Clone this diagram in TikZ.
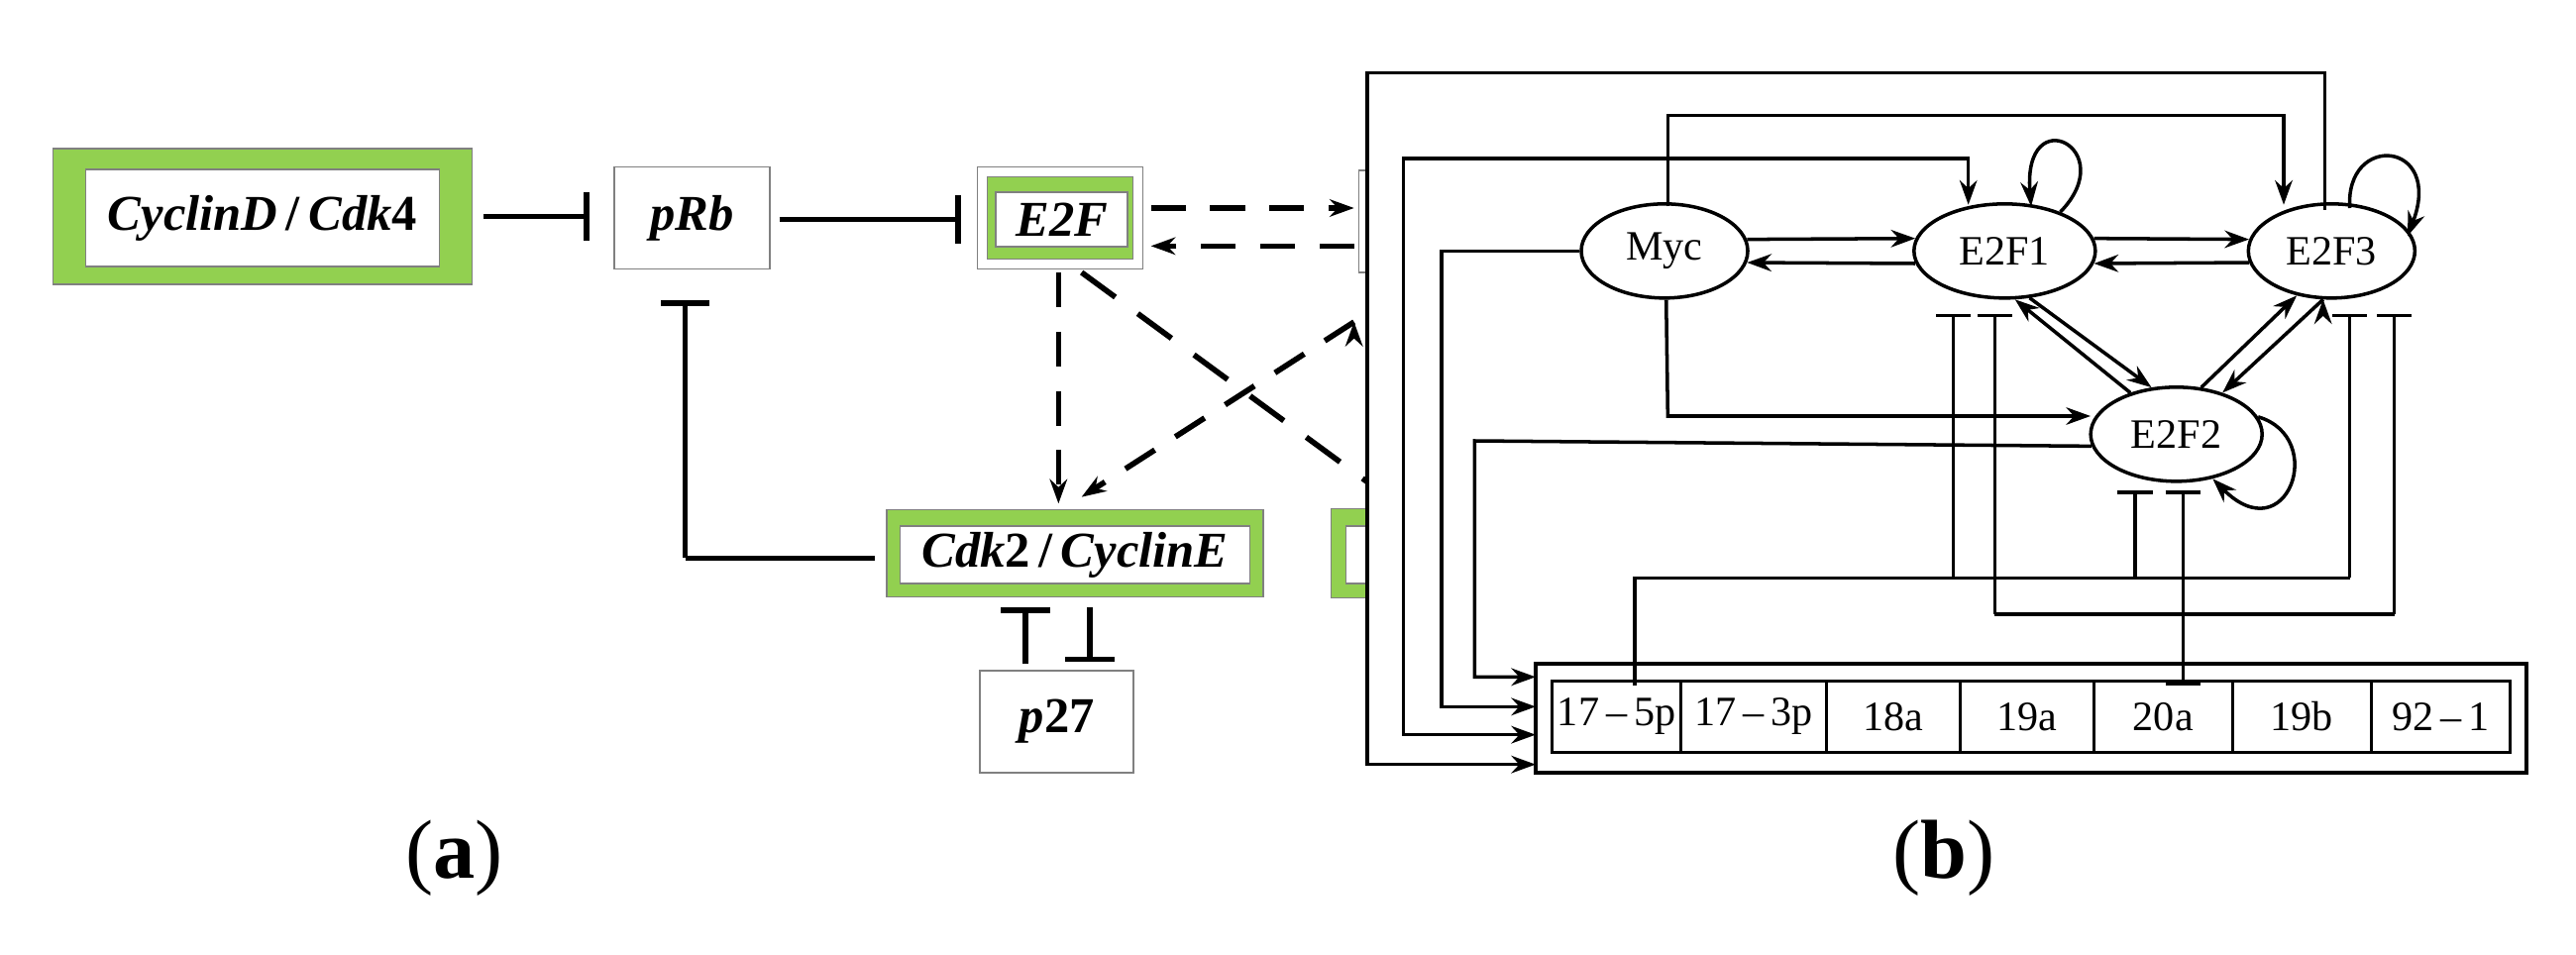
\documentclass[tikz,border=0pt]{standalone}
\usepackage{fontspec}
\setmainfont{Liberation Serif}
\usetikzlibrary{arrows.meta}
\usetikzlibrary{shapes.geometric}
\usetikzlibrary{positioning}

\definecolor{leafgreen}{RGB}{146,208,80}

\tikzset{
  act/.style={-{Stealth[length=7pt,width=5pt]}},
  inh/.style={-{Bar[width=14pt,line width=1.6pt]}},
  rep/.style={-{Bar[width=10pt,line width=1pt]}},
  greenbox/.style={draw=gray,fill=leafgreen,inner sep=0pt},
  whitebox/.style={draw=gray,fill=white,inner sep=0pt,font=\Large\bfseries\itshape},
  gene/.style={draw,ellipse,line width=1pt,minimum width=1.68cm,minimum height=0.95cm,font=\large},
  cell/.style={draw,line width=0.8pt,minimum height=0.72cm,inner sep=0pt,font=\large}
}

\begin{document}
\begin{tikzpicture}[x=0.016667cm,y=-0.016667cm]
  \useasboundingbox (0,0) rectangle (1560,578);

  % panel (a)
  \node [greenbox,minimum width=4.23cm,minimum height=1.37cm] (CDouter) at (159,131) {};
  \node [whitebox,minimum width=3.57cm,minimum height=0.98cm] (CD) at (159,132) {CyclinD\,\textup{/}\,Cdk\textup{4}};
  \node [whitebox,minimum width=1.57cm,minimum height=1.03cm] (pRb) at (419,132) {pRb};
  \node [draw=gray,minimum width=1.67cm,minimum height=1.03cm] (E2Fframe) at (642,132) {};
  \node [greenbox,minimum width=1.47cm,minimum height=0.83cm] (E2Fouter) at (642,132) {};
  \node [whitebox,minimum width=1.33cm,minimum height=0.55cm] (E2F) at (643,133) {E2F};
  \node [greenbox,minimum width=3.8cm,minimum height=0.88cm] (CEouter) at (651,335) {};
  \node [whitebox,minimum width=3.53cm,minimum height=0.58cm] (CE) at (651,336) {Cdk\textup{2}\,\textup{/}\,CyclinE};
  \node [whitebox,minimum width=1.55cm,minimum height=1.03cm] (p27) at (640,437) {p\textup{27}};

  \coordinate (pRbBar) at (415,182);
  \coordinate (CEleft) at (530,338);

  \path [draw,line width=1.6pt]
    (293,131) edge [inh] (357,131)
    (472,133) edge [inh] (582,133)
    (CEleft) -- (415,338) edge [inh] (pRbBar)
    (621,402) edge [inh] (621,368)
    (660,368) edge [inh] (660,401);

  \begin{scope}
    \clip (0,0) rectangle (828,578);
    \node [draw=gray,minimum width=1.5cm,minimum height=1.03cm] (Hidden) at (868,134) {};
    \node [greenbox,minimum width=1.5cm,minimum height=0.9cm] (HGouter) at (851,335) {};
    \node [draw=gray,fill=white,minimum width=1.2cm,minimum height=0.58cm] (HG) at (851,336) {};
    \draw [line width=1.6pt,dash pattern=on 12pt off 8pt] (655,165) -- (880,330);
  \end{scope}

  \path [draw,line width=1.6pt,act,dash pattern=on 10pt off 7pt]
    (697,126) edge (820,126)
    (820,149) edge (697,149)
    (641,165) edge (641,305)
    (820,195) edge (655,301);

  \node [font=\fontsize{24}{28}\selectfont] (alab) at (275,520) {(\textbf{a})};

  % panel (b)
  \node [gene] (Myc) at (1008,152) {Myc};
  \node [gene,minimum width=1.83cm] (E2F1) at (1214,152) {E2F1};
  \node [gene] (E2F3) at (1412,152) {E2F3};
  \node [gene,minimum width=1.73cm] (E2F2) at (1318,263) {E2F2};

  \draw [line width=1pt] (930,402) rectangle (1530,468);
  \foreach \lab/\xa/\xb [count=\i] in {17\,--\,5p/940/1018,17\,--\,3p/1018/1106,18a/1106/1187,19a/1187/1268,20a/1268/1352,19b/1352/1436,92\,--\,1/1436/1520}
    \node [cell,minimum width=(\xb-\xa)*0.016667cm] (mir\i) at ({(\xa+\xb)/2},434) {\lab};

  \path [draw,line width=1pt,act]
    (Myc.8) edge (E2F1.172)
    (E2F1.188) edge (Myc.-8)
    (E2F1.8) edge (E2F3.172)
    (E2F3.188) edge (E2F1.-8)
    (E2F1.-62) edge (E2F2.118)
    (E2F2.138) edge (E2F1.-78)
    (E2F2.62) edge (E2F3.-128)
    (E2F3.-100) edge (E2F2.42);

  \draw [line width=1pt,act] (1010,125) -- (1010,70) -- (1383,70) -- (1383,124);
  \draw [line width=1pt,act] (Myc.-88) -- (1010,252) -- (1266,252);
  \draw [line width=1pt,act] (Myc.west) -- (873,152) -- (873,428) -- (930,428);
  \draw [line width=1pt,act] (E2F2.188) -- (893,267) -- (893,410) -- (930,410);
  \draw [line width=1pt,act] (1408,127) -- (1408,44) -- (828,44) -- (828,463) -- (930,463);
  \draw [line width=1pt,{Stealth[length=7pt,width=5pt]}-{Stealth[length=7pt,width=5pt]}]
    (1192,124) -- (1192,96) -- (850,96) -- (850,445) -- (930,445);

  \draw [line width=1pt,act] (E2F1.35) .. controls (1285,90) and (1225,60) .. (1230,125);
  \draw [line width=1pt,act] (1423,126) .. controls (1420,80) and (1480,85) .. (1458,143);
  \draw [line width=1pt,act] (E2F2.12) .. controls (1410,265) and (1385,335) .. (1340,290);

  \draw [line width=1pt] (990,415) -- (990,350) -- (1423,350);
  \draw [line width=1pt] (1208,372) -- (1450,372);
  \path [draw,line width=1pt,rep]
    (1183,350) edge (1183,190)
    (1293,350) edge (1293,297)
    (1423,350) edge (1423,190)
    (1208,372) edge (1208,190)
    (1450,372) edge (1450,190)
    (1322,413) edge (1322,297);

  \node [font=\fontsize{24}{28}\selectfont] (blab) at (1177,520) {(\textbf{b})};
\end{tikzpicture}
\end{document}
